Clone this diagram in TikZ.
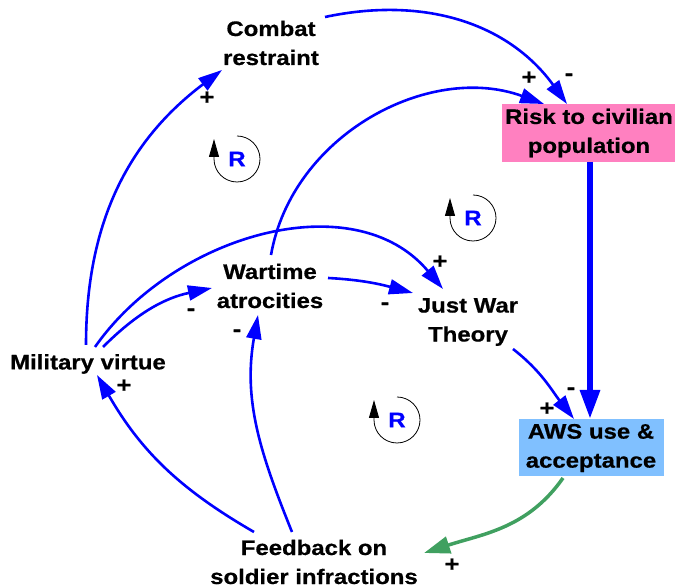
\documentclass[tikz,border=0pt]{standalone}
\usepackage{fontspec}
\newfontfamily\cldfont{Liberation Sans}[FakeStretch=1.14,BoldFeatures={FakeBold=0.6}]
\usetikzlibrary{arrows.meta}
\definecolor{riskpink}{RGB}{255,128,192}
\definecolor{awsblue}{RGB}{128,192,255}
\definecolor{fbgreen}{RGB}{64,160,96}

\begin{document}
\begin{tikzpicture}[x=1pt,y=1pt,
    var/.style={align=center,inner sep=0pt,
      font=\cldfont\bfseries\fontsize{21}{29}\selectfont},
    sign/.style={inner sep=0pt,font=\cldfont\bfseries\fontsize{22}{22}\selectfont},
    rmark/.style={inner sep=0pt,text=blue,font=\cldfont\bfseries\fontsize{21}{21}\selectfont},
    causal/.style={draw=blue,line width=2.6pt,-{Triangle[length=24pt,width=15pt]}},
    loopmark/.style={draw=black,line width=0.8pt,-{Triangle[length=18pt,width=10pt]}}]
  \useasboundingbox (0,0) rectangle (675,588);
  \draw
    (271,545) node[var] (cr){Combat\\restraint}
    (589,455) node[var,fill=riskpink,minimum width=174,minimum height=58] (risk){Risk to civilian\\population}
    (270,302) node[var] (wa){Wartime\\atrocities}
    (468,266) node[var] (jwt){Just War\\Theory}
    (88,224) node[var] (mv){Military virtue}
    (591,140) node[var,fill=awsblue,minimum width=145,minimum height=57] (aws){AWS use \&\\acceptance}
    (314,26) node[var] (fb){Feedback on\\soldier infractions};
  \begin{scope}[causal]
    \draw ([shift={(-2,19)}]mv.center) to[out=90,in=217] ([shift={(-49,-27)}]cr.center);
    \draw ([shift={(54,26)}]cr.center) to[out=12,in=126] ([shift={(-22,29)}]risk.center);
    \draw ([shift={(1,31)}]wa.center) to[out=80,in=160] ([shift={(-45,29)}]risk.center);
    \draw ([shift={(7,17)}]mv.center) to[out=55,in=130] ([shift={(-25,33)}]jwt.center);
    \draw ([shift={(15,17)}]mv.center) to[out=45,in=192] ([shift={(-58,-2)}]wa.center);
    \draw ([shift={(58,8)}]wa.center) to[out=-3,in=165] ([shift={(-55,29)}]jwt.center);
    \draw ([shift={(45,-27)}]jwt.center) to[out=-38,in=128] ([shift={(-17,29)}]aws.center);
    \draw ([shift={(-60,30)}]fb.center) to[out=150,in=-60] ([shift={(9,-11)}]mv.center);
    \draw ([shift={(-22,30)}]fb.center) to[out=112,in=-100] ([shift={(-12,-29)}]wa.center);
  \end{scope}
  \draw[blue,line width=6pt,-{Triangle[length=29pt,width=19pt]}]
    ([shift={(1,-29)}]risk.center) -- ([shift={(-1,29)}]aws.center);
  \draw[fbgreen,line width=3.5pt,-{Triangle[length=26pt,width=17pt]}]
    ([shift={(-28,-30)}]aws.center) to[out=235,in=18] ([shift={(110,9)}]fb.center);
  % polarity signs
  \draw
    (207,490) node[sign] (s1){+}
    (569,511) node[sign] (s2){-}
    (529,510) node[sign] (s3){+}
    (440,326) node[sign] (s4){+}
    (191,276) node[sign] (s5){-}
    (385,282) node[sign] (s6){-}
    (237,255) node[sign] (s7){-}
    (124,202) node[sign] (s8){+}
    (547,179) node[sign] (s9){+}
    (571,197) node[sign] (s10){-}
    (452,23) node[sign] (s11){+};
  % loop markers
  \foreach \lx/\ly [count=\i] in {237/429,473/370,397/168}{
    \coordinate (c\i) at (\lx,\ly);
    \draw[loopmark] ([yshift=23]c\i) arc[start angle=90,end angle=-180,radius=23] -- ++(0,20);
    \node[rmark] (r\i) at (c\i) {R};
  }
\end{tikzpicture}
\end{document}
